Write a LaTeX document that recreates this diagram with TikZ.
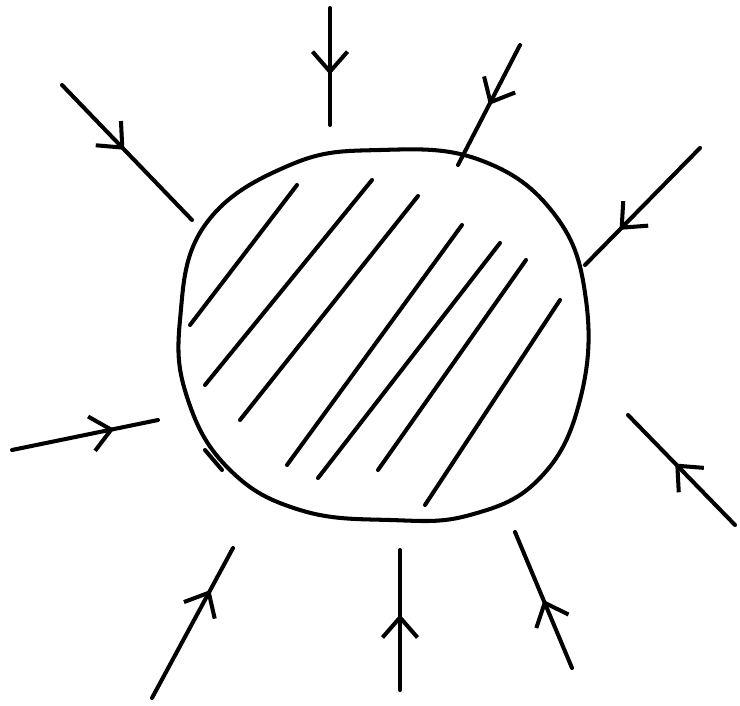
\documentclass[tikz,border=0pt]{standalone}
\usetikzlibrary{arrows.meta, decorations.markings}

\tikzset{
  pen/.style={line width=2.3pt, line cap=round, line join=round},
  inarrow/.style={pen, postaction={decorate},
    decoration={markings, mark=at position #1 with {\arrow[line width=2.3pt]{Straight Barb[length=4mm,width=7mm]}}}}
}

\begin{document}
\begin{tikzpicture}[x=0.02cm, y=-0.02cm]
\useasboundingbox (0,0) rectangle (740,706);

% blob
\draw[pen] plot[smooth cycle, tension=0.7] coordinates {
  (205,225) (290,165) (380,150) (480,160) (555,215) (586,300)
  (580,400) (540,478) (470,515) (390,520) (300,510) (230,470)
  (188,400) (180,320)};

% hatching
\draw[pen] (190,325) -- (297,185);
\draw[pen] (205,385) -- (372,180);
\draw[pen] (240,420) -- (418,196);
\draw[pen] (287,465) -- (462,225);
\draw[pen] (318,478) -- (500,243);
\draw[pen] (378,470) -- (526,260);
\draw[pen] (425,505) -- (560,300);
\draw[pen] (205,450) -- (222,470);

% incoming arrows
\draw[inarrow=0.57] (330,8) -- (330,125);
\draw[inarrow=0.5] (520,45) -- (458,165);
\draw[inarrow=0.7] (700,148) -- (585,265);
\draw[inarrow=0.48] (62,85) -- (192,220);
\draw[inarrow=0.7] (12,450) -- (158,420);
\draw[inarrow=0.56] (735,525) -- (628,415);
\draw[inarrow=0.72] (152,698) -- (233,548);
\draw[inarrow=0.54] (400,690) -- (400,550);
\draw[inarrow=0.5] (572,668) -- (515,532);
\end{tikzpicture}
\end{document}
